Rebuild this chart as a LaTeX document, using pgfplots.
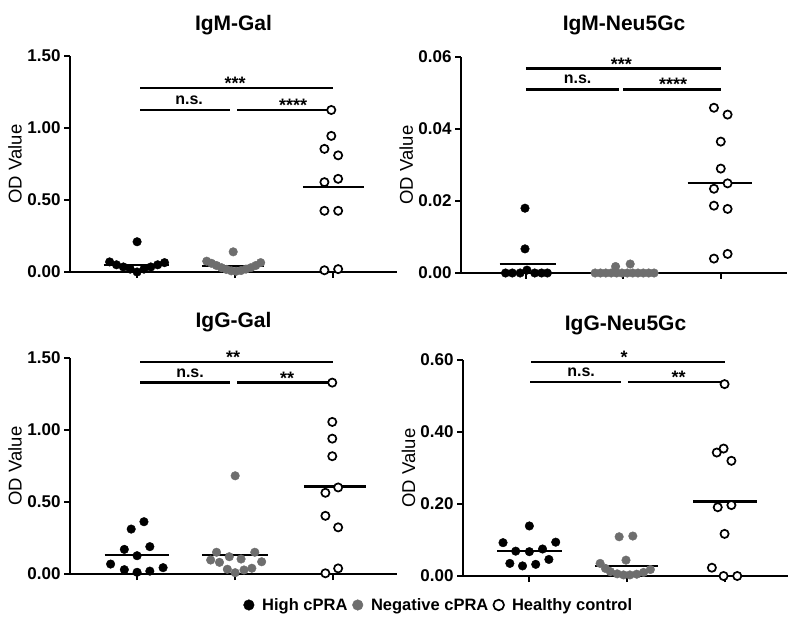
\documentclass[border=0pt]{standalone}
\usepackage{fontspec}
\setmainfont{Liberation Sans}
\usepackage{pgfplots}
\pgfplotsset{compat=1.18}
\definecolor{gry}{RGB}{110,110,110}
\pgfplotsset{
  panel/.style={
    scale only axis, height=216pt,
    axis lines*=left,
    axis line style={-, line width=2.3pt},
    tick style={line width=2pt, black},
    tick align=outside, major tick length=6pt,
    xtick={1,2,3}, xticklabels={},
    ymin=0, clip=false, scaled y ticks=false,
    ylabel={OD Value},
    ylabel style={font=\fontsize{18.5}{20}\selectfont, at={(axis description cs:-0.168,0.5)}, anchor=center},
    yticklabel style={font=\fontsize{17}{19}\selectfont\bfseries},
  },
  hi/.style={only marks, mark=*, mark size=4.3pt, mark options={fill=black, draw=black}},
  ng/.style={only marks, mark=*, mark size=4.3pt, mark options={fill=gry, draw=gry}},
  hc/.style={only marks, mark=*, mark size=4.1pt, mark options={fill=white, draw=black, line width=1.7pt}},
  med/.style={black, line width=2.3pt, forget plot},
}
\tikzset{
  ttl/.style={font=\fontsize{21}{24}\selectfont\bfseries, anchor=base},
  ns/.style={font=\fontsize{16}{18}\selectfont\bfseries, anchor=base, yshift=5.5pt},
  st/.style={font=\fontsize{18}{20}\selectfont\bfseries, anchor=base, yshift=-1.5pt},
}
\begin{document}
\begin{tikzpicture}
\useasboundingbox (0,0) rectangle (800pt,629pt);

% ---------------- Panel 1: IgM-Gal
\begin{axis}[panel, at={(70pt,357pt)}, anchor=south west, width=327pt,
  xmin=0.316, xmax=3.65, ymax=1.5,
  ytick={0,0.5,1,1.5}, yticklabels={0.00,0.50,1.00,1.50}]
\addplot[hi] coordinates {(0.72,0.07) (0.79,0.05) (0.86,0.035) (0.93,0.02) (1.0,0.0) (1.07,0.02) (1.14,0.035) (1.21,0.05) (1.28,0.065) (1.0,0.21)};
\addplot[ng] coordinates {(1.71,0.075) (1.76,0.06) (1.81,0.045) (1.86,0.03) (1.91,0.018) (1.96,0.008) (2.01,0.005) (2.06,0.01) (2.11,0.02) (2.16,0.03) (2.21,0.045) (2.26,0.065) (1.98,0.14)};
\addplot[hc] coordinates {(2.98,1.125) (2.98,0.945) (2.91,0.855) (3.05,0.81) (2.91,0.624) (3.05,0.647) (2.91,0.425) (3.05,0.425) (2.91,0.012) (3.05,0.02)};
\addplot[med] coordinates {(0.66,0.05) (1.33,0.05)};
\addplot[med] coordinates {(1.66,0.04) (2.29,0.04)};
\addplot[med] coordinates {(2.69,0.59) (3.31,0.59)};
\addplot[med] coordinates {(1.03,1.276) (3.0,1.276)};
\addplot[med] coordinates {(1.03,1.125) (1.95,1.125)};
\addplot[med] coordinates {(2.02,1.125) (3.0,1.125)};
\node[st] at (axis cs:2.0,1.276) {***};
\node[ns] at (axis cs:1.53,1.125) {n.s.};
\node[st] at (axis cs:2.59,1.125) {****};
\node[ttl] at (rel axis cs:0.5,1) [yshift=25.3pt] {IgM-Gal};
\end{axis}

% ---------------- Panel 2: IgM-Neu5Gc
\begin{axis}[panel, at={(461pt,356pt)}, anchor=south west, width=326pt,
  xmin=0.333, xmax=3.68, ymax=0.06,
  ytick={0,0.02,0.04,0.06}, yticklabels={0.00,0.02,0.04,0.06}]
\addplot[hi] coordinates {(0.79,0) (0.86,0) (0.94,0) (1.01,0.0008) (1.09,0) (1.16,0) (1.22,0) (0.99,0.0067) (0.99,0.018)};
\addplot[ng] coordinates {(1.71,0) (1.765,0) (1.82,0) (1.875,0) (1.93,0) (1.985,0) (2.04,0) (2.095,0) (2.15,0) (2.205,0) (2.26,0) (2.315,0) (1.92,0.0018) (2.07,0.0025)};
\addplot[hc] coordinates {(2.93,0.0459) (3.07,0.044) (3.0,0.0365) (3.0,0.029) (2.93,0.0234) (3.07,0.0249) (2.93,0.0187) (3.07,0.0178) (2.93,0.004) (3.07,0.0053)};
\addplot[med] coordinates {(0.73,0.0025) (1.31,0.0025)};
\addplot[med] coordinates {(1.71,0.0002) (2.29,0.0002)};
\addplot[med] coordinates {(2.66,0.025) (3.32,0.025)};
\addplot[med] coordinates {(1.0,0.0568) (3.0,0.0568)};
\addplot[med] coordinates {(1.0,0.051) (1.95,0.051)};
\addplot[med] coordinates {(2.0,0.051) (3.0,0.051)};
\node[st] at (axis cs:1.98,0.0568) {***};
\node[ns] at (axis cs:1.53,0.051) {n.s.};
\node[st] at (axis cs:2.51,0.051) {****};
\node[ttl] at (rel axis cs:0.5,1) [yshift=27pt] {IgM-Neu5Gc};
\end{axis}

% ---------------- Panel 3: IgG-Gal
\begin{axis}[panel, at={(70pt,55pt)}, anchor=south west, width=327pt,
  xmin=0.316, xmax=3.65, ymax=1.5,
  ytick={0,0.5,1,1.5}, yticklabels={0.00,0.50,1.00,1.50},
  legend image code/.code={\draw[#1, mark size=5.3pt] plot coordinates {(0pt,0pt)};},
  legend style={at={(1.128,-0.1435)}, anchor=center, draw=none, fill=none,
    legend columns=3, font=\fontsize{16.5}{18}\selectfont\bfseries,
    /tikz/every even column/.append style={column sep=3pt},
    /tikz/every odd column/.append style={column sep=6pt}},
  legend cell align=left]
\addplot[hi] coordinates {(0.94,0.312) (1.07,0.363) (0.87,0.171) (1.13,0.19) (1.0,0.127) (0.73,0.069) (0.87,0.03) (1.0,0.012) (1.13,0.02) (1.265,0.044)};
\addlegendentry{High cPRA}
\addplot[ng] coordinates {(1.81,0.151) (1.94,0.12) (2.06,0.104) (2.2,0.151) (1.75,0.097) (1.84,0.081) (2.27,0.085) (1.92,0.033) (2.0,0.009) (2.09,0.028) (2.17,0.04) (2.0,0.682)};
\addlegendentry{Negative cPRA}
\addplot[hc] coordinates {(2.99,1.329) (2.99,1.056) (2.99,0.94) (2.99,0.818) (2.92,0.564) (3.05,0.601) (2.92,0.404) (3.05,0.324) (2.92,0.005) (3.05,0.039)};
\addlegendentry{Healthy control}
\addplot[med] coordinates {(0.67,0.132) (1.33,0.132)};
\addplot[med] coordinates {(1.66,0.13) (2.33,0.13)};
\addplot[med] coordinates {(2.70,0.608) (3.33,0.608)};
\addplot[med] coordinates {(1.03,1.472) (3.0,1.472)};
\addplot[med] coordinates {(1.03,1.329) (1.95,1.329)};
\addplot[med] coordinates {(2.02,1.329) (3.0,1.329)};
\node[st] at (axis cs:1.98,1.472) {**};
\node[ns] at (axis cs:1.54,1.329) {n.s.};
\node[st] at (axis cs:2.53,1.329) {**};
\node[ttl] at (rel axis cs:0.5,1) [yshift=30pt] {IgG-Gal};
\end{axis}

% ---------------- Panel 4: IgG-Neu5Gc
\begin{axis}[panel, at={(463pt,53pt)}, anchor=south west, width=325pt,
  xmin=0.32, xmax=3.65, ymax=0.6,
  ytick={0,0.2,0.4,0.6}, yticklabels={0.00,0.20,0.40,0.60}]
\addplot[hi] coordinates {(1.0,0.139) (0.73,0.0926) (1.27,0.094) (0.86,0.069) (1.0,0.0676) (1.135,0.075) (0.8,0.035) (0.93,0.028) (1.065,0.0324) (1.2,0.046)};
\addplot[ng] coordinates {(1.92,0.109) (2.06,0.111) (1.99,0.044) (1.725,0.035) (1.78,0.021) (1.83,0.012) (1.9,0.006) (1.965,0.003) (2.03,0.003) (2.1,0.005) (2.17,0.01) (2.24,0.018)};
\addplot[hc] coordinates {(3.0,0.533) (2.92,0.343) (2.99,0.354) (3.07,0.32) (2.93,0.191) (3.07,0.197) (3.0,0.117) (2.87,0.023) (2.99,0.0) (3.13,0.0)};
\addplot[med] coordinates {(0.67,0.069) (1.33,0.069)};
\addplot[med] coordinates {(1.67,0.028) (2.32,0.028)};
\addplot[med] coordinates {(2.68,0.207) (3.33,0.207)};
\addplot[med] coordinates {(1.02,0.595) (3.0,0.595)};
\addplot[med] coordinates {(1.01,0.538) (1.94,0.538)};
\addplot[med] coordinates {(2.01,0.538) (3.0,0.538)};
\node[st] at (axis cs:1.97,0.595) {*};
\node[ns] at (axis cs:1.53,0.538) {n.s.};
\node[st] at (axis cs:2.53,0.538) {**};
\node[ttl] at (rel axis cs:0.5,1) [yshift=30pt] {IgG-Neu5Gc};
\end{axis}
\end{tikzpicture}
\end{document}
